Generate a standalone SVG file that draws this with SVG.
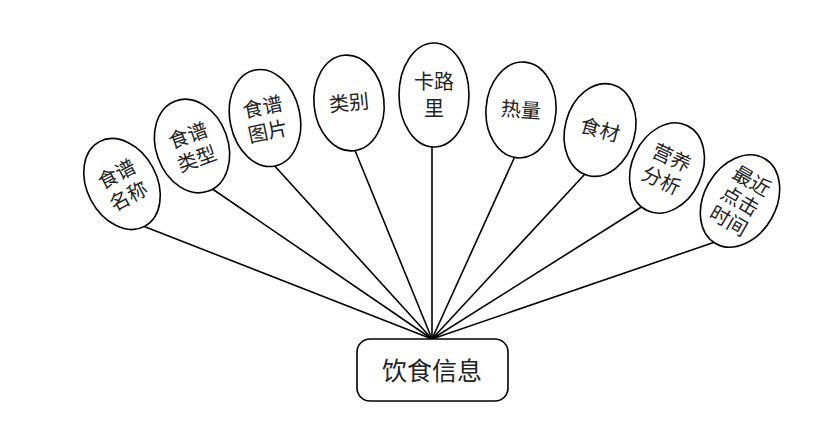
<svg xmlns="http://www.w3.org/2000/svg" width="837" height="445" viewBox="0 0 837 445">
<style>
.e{fill:#fff;stroke:#000;stroke-width:1.6}
.t{font-family:"Noto Sans CJK SC","Noto Sans",sans-serif;font-size:20px;fill:#222;text-anchor:middle}
.c line{stroke:#000;stroke-width:1.6}
</style>
<rect width="837" height="445" fill="#fff"/>
<g class="c" id="connectors">
<line x1="432" y1="339" x2="143" y2="226"/>
<line x1="432" y1="339" x2="211" y2="188"/>
<line x1="432" y1="339" x2="272" y2="163"/>
<line x1="432" y1="339" x2="354" y2="148"/>
<line x1="432" y1="339" x2="432" y2="143"/>
<line x1="432" y1="339" x2="516" y2="154"/>
<line x1="432" y1="339" x2="585" y2="174"/>
<line x1="432" y1="339" x2="643" y2="206"/>
<line x1="432" y1="339" x2="718" y2="241"/>
</g>
<g id="n1" transform="translate(122,184) rotate(-28)">
<ellipse class="e" rx="35" ry="48"/>
<text class="t" y="-4">食谱</text><text class="t" y="21">名称</text>
</g>
<g id="n2" transform="translate(192,146) rotate(-20)">
<ellipse class="e" rx="36" ry="48"/>
<text class="t" y="-4">食谱</text><text class="t" y="21">类型</text>
</g>
<g id="n3" transform="translate(265,118) rotate(-12)">
<ellipse class="e" rx="35" ry="49"/>
<text class="t" y="-4">食谱</text><text class="t" y="21">图片</text>
</g>
<g id="n4" transform="translate(349,103) rotate(-6)">
<ellipse class="e" rx="35" ry="48"/>
<text class="t" y="7">类别</text>
</g>
<g id="n5" transform="translate(434,95)">
<ellipse class="e" rx="35" ry="52"/>
<text class="t" y="-6">卡路</text><text class="t" y="21">里</text>
</g>
<g id="n6" transform="translate(521,110) rotate(4)">
<ellipse class="e" rx="35" ry="48"/>
<text class="t" y="7">热量</text>
</g>
<g id="n7" transform="translate(600,130) rotate(15)">
<ellipse class="e" rx="35" ry="47"/>
<text class="t" y="7">食材</text>
</g>
<g id="n8" transform="translate(667,168) rotate(25)">
<ellipse class="e" rx="35" ry="47"/>
<text class="t" y="-4">营养</text><text class="t" y="21">分析</text>
</g>
<g id="n9" transform="translate(740,201) rotate(30)">
<ellipse class="e" rx="36" ry="49"/>
<text class="t" y="-16">最近</text><text class="t" y="7">点击</text><text class="t" y="30">时间</text>
</g>
<g id="hub">
<rect x="357" y="339" width="151" height="62" rx="13" fill="#fff" stroke="#000" stroke-width="1.6"/>
<text x="432" y="380" font-family="'Noto Sans CJK SC','Noto Sans',sans-serif" font-size="25" fill="#222" text-anchor="middle">饮食信息</text>
</g>
</svg>
